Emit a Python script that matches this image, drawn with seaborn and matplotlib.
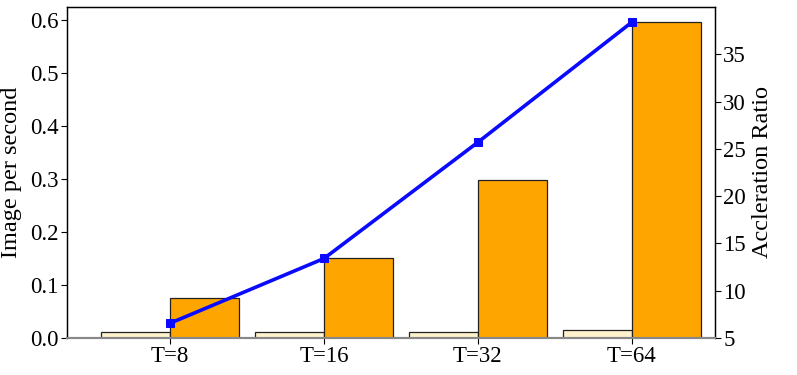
import numpy as np
import pandas as pd
import matplotlib
matplotlib.use("Agg")
import matplotlib.pyplot as plt
import seaborn as sns

# values
categories = ["T=8", "T=16", "T=32", "T=64"]
baseline_ips = [0.011, 0.011, 0.012, 0.0145]
ours_ips = [0.075, 0.150, 0.299, 0.596]
accel_ratio = [6.55, 13.4, 25.7, 38.4]
series_names = ["Baseline", "Ours"]


def build_chart():
    sns.set_theme(style="white")
    plt.rcParams["font.family"] = ["Liberation Serif", "DejaVu Serif"]
    plt.rcParams["text.color"] = "black"
    plt.rcParams["axes.labelcolor"] = "black"
    plt.rcParams["xtick.color"] = "black"
    plt.rcParams["ytick.color"] = "black"

    df = pd.DataFrame({
        "T": categories * 2,
        "ips": baseline_ips + ours_ips,
        "method": [series_names[0]] * len(categories) + [series_names[1]] * len(categories),
    })

    fig, ax = plt.subplots(figsize=(7.97, 3.75), dpi=100)
    sns.barplot(data=df, x="T", y="ips", hue="method", order=categories,
                hue_order=series_names, palette=["#FFF2CC", "#FFA500"],
                width=0.9, edgecolor="#222222", linewidth=0.9, saturation=1,
                legend=False, ax=ax)
    ax.set_xlim(-0.67, 3.54)
    ax.set_ylim(0, 0.6245)
    ax.set_xlabel("")
    ax.set_ylabel("Image per second", fontsize=17.5, labelpad=6)
    ax.tick_params(axis="both", labelsize=16.5, length=4, width=0.8,
                   direction="out", bottom=True, left=True, pad=2)

    ax2 = ax.twinx()
    sns.lineplot(x=np.arange(len(categories)), y=accel_ratio, color="#0a0aff",
                 linewidth=2.6, marker="s", markersize=6, markeredgecolor="#0a0aff",
                 ax=ax2)
    ax2.set_ylim(5, 40)
    ax2.set_yticks([5, 10, 15, 20, 25, 30, 35])
    ax2.set_ylabel("Accleration Ratio", fontsize=17.5, labelpad=4)
    ax2.tick_params(axis="y", labelsize=16.5, length=4, width=0.8,
                    direction="out", right=True, pad=2)

    for a in (ax, ax2):
        for side in ("top", "left", "right"):
            a.spines[side].set_color("black")
            a.spines[side].set_linewidth(0.9)
        a.spines["bottom"].set_color("#888888")
        a.spines["bottom"].set_linewidth(1.5)

    fig.subplots_adjust(left=0.084, right=0.897, top=0.981, bottom=0.099)
    fig.savefig("out.png", dpi=100)
    plt.close("all")


if __name__ == "__main__":
    build_chart()
